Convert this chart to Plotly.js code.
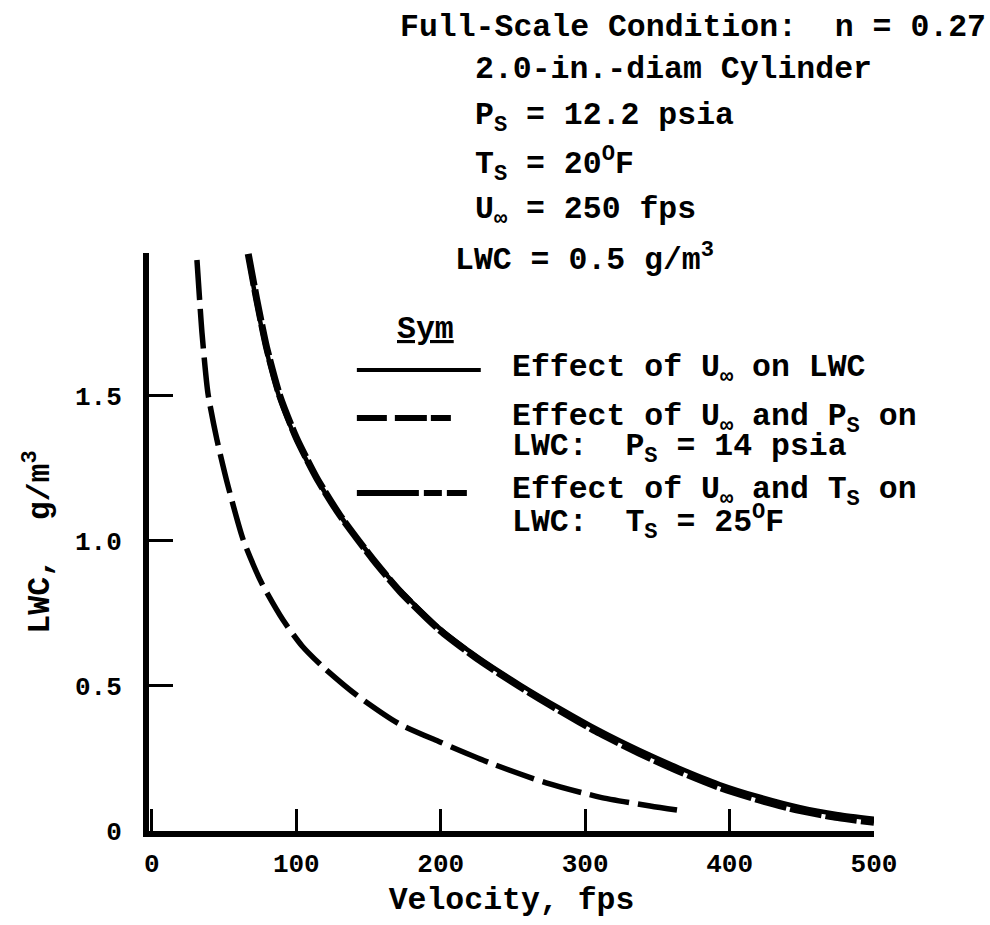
<!DOCTYPE html>
<html>
<head>
<meta charset="utf-8">
<script src="https://cdn.plot.ly/plotly-3.0.1.min.js"></script>
<style>
html,body{margin:0;padding:0;background:#fff;}
#chart{width:990px;height:925px;}
</style>
</head>
<body>
<div id="chart"></div>
<script>
// ---- data ----
const velocityU = [66.7, 72.5, 79.4, 88.6, 100, 114, 130, 153, 172, 199, 227, 255, 282, 310, 338, 365, 393, 421, 448, 475, 500];
const lwcU      = [1.98, 1.82, 1.655, 1.49, 1.35, 1.215, 1.09, 0.94, 0.83, 0.70, 0.595, 0.505, 0.425, 0.347, 0.278, 0.218, 0.162, 0.118, 0.083, 0.058, 0.042];

const velocityUP = [66.7, 72.5, 79.4, 88.6, 100, 114, 130, 153, 172, 199, 227, 255, 282, 310, 338, 365, 393, 421, 448, 475, 500];
const lwcUP      = [1.99, 1.835, 1.668, 1.50, 1.356, 1.218, 1.09, 0.937, 0.825, 0.694, 0.588, 0.497, 0.416, 0.337, 0.267, 0.206, 0.15, 0.106, 0.071, 0.046, 0.03];

const velocityUT = [31.2, 34.7, 38.8, 45, 52.7, 63.3, 76, 90.7, 104, 118.4, 141.9, 171, 199.4, 234, 273, 310, 345, 368];
const lwcUT      = [1.969, 1.717, 1.51, 1.35, 1.19, 1.003, 0.855, 0.728, 0.638, 0.566, 0.468, 0.37, 0.307, 0.235, 0.166, 0.117, 0.086, 0.069];

const xTickVals = [0, 100, 200, 300, 400, 500];
const xTickText = ['0', '100', '200', '300', '400', '500'];
const yTickVals = [0, 0.5, 1.0, 1.5];
const yTickText = ['0', '0.5', '1.0', '1.5'];

const legendNames = [
  'Effect of U<sub>\u221e</sub> on LWC',
  'Effect of U<sub>\u221e</sub> and P<sub>S</sub> on',
  'Effect of U<sub>\u221e</sub> and T<sub>S</sub> on'
];
const legendSecond = ['', 'LWC:\u00a0\u00a0P<sub>S</sub> = 14 psia', 'LWC:\u00a0\u00a0T<sub>S</sub> = 25<sup>O</sup>F'];

const conditionLines = [
  'Full-Scale Condition:\u00a0\u00a0n = 0.27',
  '2.0-in.-diam Cylinder',
  'P<sub>S</sub> = 12.2 psia',
  'T<sub>S</sub> = 20<sup>O</sup>F',
  'U<sub>\u221e</sub> = 250 fps',
  'LWC = 0.5 g/m<sup>3</sup>'
];

// ---- layout helpers ----
const FONT = 'Liberation Mono, Courier New, monospace';
const L = 149, R = 874.5, T = 253, B = 831;
const W = 990, H = 925;
const px = x => (x - L) / (R - L);
const py = y => (B - y) / (B - T);
const TXT = 31.5;

function ann(text, x, y, size, anchor) {
  return {
    xref: 'paper', yref: 'paper', x: px(x), y: py(y),
    xanchor: anchor || 'left', yanchor: 'middle', showarrow: false,
    text: text,
    font: {family: FONT, size: size || TXT, color: '#000', weight: 700}
  };
}

const traces = [
  {x: velocityU, y: lwcU, mode: 'lines', line: {color: '#000', width: 4.5, shape: 'spline', smoothing: 0.6}, showlegend: false, hoverinfo: 'skip'},
  {x: velocityUP, y: lwcUP, mode: 'lines', line: {color: '#000', width: 7, shape: 'spline', smoothing: 0.6, dash: '32px,4px'}, showlegend: false, hoverinfo: 'skip'},
  {x: velocityUT, y: lwcUT, mode: 'lines', line: {color: '#000', width: 5.5, shape: 'spline', smoothing: 0.6, dash: '40px,9px'}, showlegend: false, hoverinfo: 'skip'}
];

const condX = [398, 473, 473, 473, 473, 453];
const condY = [27, 70, 118, 164, 212, 258];

const annotations = [];
conditionLines.forEach((t, i) => annotations.push(ann(t, condX[i], condY[i])));
annotations.push(ann('<u>Sym</u>', 426, 329, TXT, 'center'));
const legY1 = [370, 419, 492];
const legY2 = [null, 449, 522];
legendNames.forEach((t, i) => {
  annotations.push(ann(t, 510, legY1[i]));
  if (legendSecond[i]) annotations.push(ann(legendSecond[i], 510, legY2[i]));
});

const shapes = [
  {type: 'line', xref: 'paper', yref: 'paper', x0: px(357), x1: px(481), y0: py(370), y1: py(370), line: {color: '#000', width: 4}},
  {type: 'line', xref: 'paper', yref: 'paper', x0: px(357), x1: px(481), y0: py(418), y1: py(418), line: {color: '#000', width: 6, dash: '30px,8px,32px,4px,20px'}},
  {type: 'line', xref: 'paper', yref: 'paper', x0: px(357), x1: px(482), y0: py(493), y1: py(493), line: {color: '#000', width: 6, dash: '62px,5px,18px,5px,20px'}}
];

const layout = {
  width: W, height: H,
  margin: {l: L, r: W - R, t: T, b: H - B, pad: 0},
  paper_bgcolor: '#fff', plot_bgcolor: '#fff',
  showlegend: false,
  xaxis: {
    range: [-2, 500], showgrid: false, zeroline: false,
    showline: true, linecolor: '#000', linewidth: 6,
    ticks: 'inside', ticklen: 22, tickwidth: 3, tickcolor: '#000',
    tickvals: xTickVals, ticktext: xTickText,
    tickfont: {family: FONT, size: 26, color: '#000', weight: 700},
    ticklabelstandoff: 4,
    title: {text: 'Velocity, fps', font: {family: FONT, size: TXT, color: '#000', weight: 700}, standoff: 10}
  },
  yaxis: {
    range: [0, 1.993], showgrid: false, zeroline: false,
    showline: true, linecolor: '#000', linewidth: 6,
    ticks: 'inside', ticklen: 24, tickwidth: 3, tickcolor: '#000',
    tickvals: yTickVals, ticktext: yTickText,
    tickfont: {family: FONT, size: 26, color: '#000', weight: 700},
    ticklabelstandoff: 16,
    title: {text: 'LWC,\u00a0\u00a0g/m<sup>3</sup>', font: {family: FONT, size: TXT, color: '#000', weight: 700}, standoff: 18}
  },
  annotations: annotations,
  shapes: shapes
};

Plotly.newPlot('chart', traces, layout, {staticPlot: true, displayModeBar: false});
</script>
</body>
</html>
